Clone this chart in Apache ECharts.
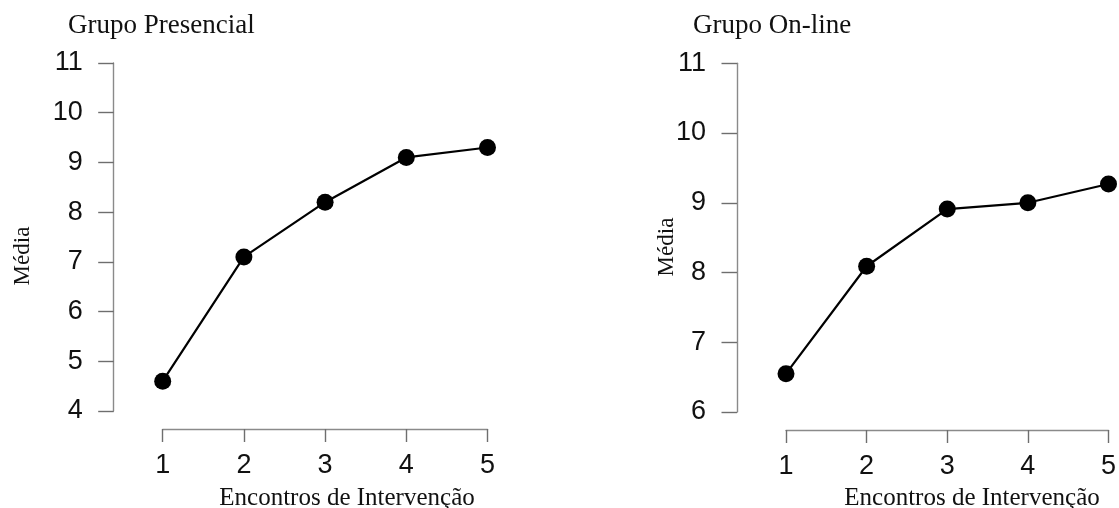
<!DOCTYPE html>
<html>
<head>
<meta charset="utf-8">
<script src="https://cdn.jsdelivr.net/npm/echarts@6/dist/echarts.min.js"></script>
<style>
  html, body { margin: 0; padding: 0; background: #ffffff; }
  #chart { width: 1119px; height: 508px; }
</style>
</head>
<body>
<div id="chart"></div>
<script>
// Intervention meetings (x) and mean scores per group (y)
const encontros = [1, 2, 3, 4, 5];
const mediaPresencial = [4.6, 7.1, 8.2, 9.1, 9.3];
const mediaOnline = [6.55, 8.09, 8.91, 9.0, 9.27];

// Axis ranges / tick labels
const ticksX = [1, 2, 3, 4, 5];
const ticksPresencial = [4, 5, 6, 7, 8, 9, 10, 11];
const ticksOnline = [6, 7, 8, 9, 10, 11];

const SANS = "'Liberation Sans', Arial, sans-serif";
const SERIF = "'Liberation Serif', 'Times New Roman', serif";
const AXIS_GREY = '#8a8a8a';

function pairs(xs, ys) {
  return xs.map((x, i) => [x, ys[i]]);
}

function xAxisFor(gridIndex) {
  return {
    gridIndex: gridIndex,
    type: 'value',
    min: ticksX[0],
    max: ticksX[ticksX.length - 1],
    interval: 1,
    position: 'bottom',
    offset: 18,
    axisLine: { show: true, onZero: false, lineStyle: { color: AXIS_GREY, width: 1.4 } },
    axisTick: { show: true, inside: false, length: 13, lineStyle: { color: '#6e6e6e', width: 1.4 } },
    axisLabel: { margin: 23, fontSize: 27, color: '#111', fontFamily: SANS },
    splitLine: { show: false }
  };
}

function yAxisFor(gridIndex, ticks) {
  return {
    gridIndex: gridIndex,
    type: 'value',
    min: ticks[0],
    max: ticks[ticks.length - 1],
    interval: 1,
    position: 'left',
    offset: 49,
    axisLine: { show: true, onZero: false, lineStyle: { color: AXIS_GREY, width: 1.4 } },
    axisTick: { show: true, inside: false, length: 15.5, lineStyle: { color: '#6e6e6e', width: 1.4 } },
    axisLabel: { margin: 31, fontSize: 27, color: '#111', fontFamily: SANS },
    splitLine: { show: false }
  };
}

function lineSeries(idx, ys) {
  return {
    type: 'line',
    xAxisIndex: idx,
    yAxisIndex: idx,
    data: pairs(encontros, ys),
    symbol: 'circle',
    symbolSize: 17,
    clip: false,
    lineStyle: { color: '#000', width: 2.2 },
    itemStyle: { color: '#000' },
    animation: false
  };
}

function serifText(text, x, y, size, extra) {
  return Object.assign({
    type: 'text',
    x: x,
    y: y,
    style: {
      text: text,
      font: size + 'px ' + SERIF,
      fill: '#111',
      align: 'left',
      verticalAlign: 'middle'
    }
  }, extra || {});
}

function centered(el) {
  el.style.align = 'center';
  return el;
}

const chart = echarts.init(document.getElementById('chart'), null, { renderer: 'canvas' });

chart.setOption({
  backgroundColor: '#ffffff',
  animation: false,
  grid: [
    { left: 162.7, right: 631.5, top: 63, bottom: 97 },
    { left: 786, right: 5.4, top: 63.3, bottom: 96 }
  ],
  xAxis: [xAxisFor(0), xAxisFor(1)],
  yAxis: [yAxisFor(0, ticksPresencial), yAxisFor(1, ticksOnline)],
  series: [lineSeries(0, mediaPresencial), lineSeries(1, mediaOnline)],
  graphic: [
    // panel titles
    serifText('Grupo Presencial', 68, 26, 27),
    serifText('Grupo On-line', 693, 26, 27),
    // x-axis titles
    centered(serifText('Encontros de Intervenção', 347, 498, 25)),
    centered(serifText('Encontros de Intervenção', 972, 498, 25)),
    // y-axis titles (rotated)
    centered(serifText('Média', 22.5, 256, 23, { rotation: Math.PI / 2 })),
    centered(serifText('Média', 667, 247, 23, { rotation: Math.PI / 2 }))
  ]
});
</script>
</body>
</html>
